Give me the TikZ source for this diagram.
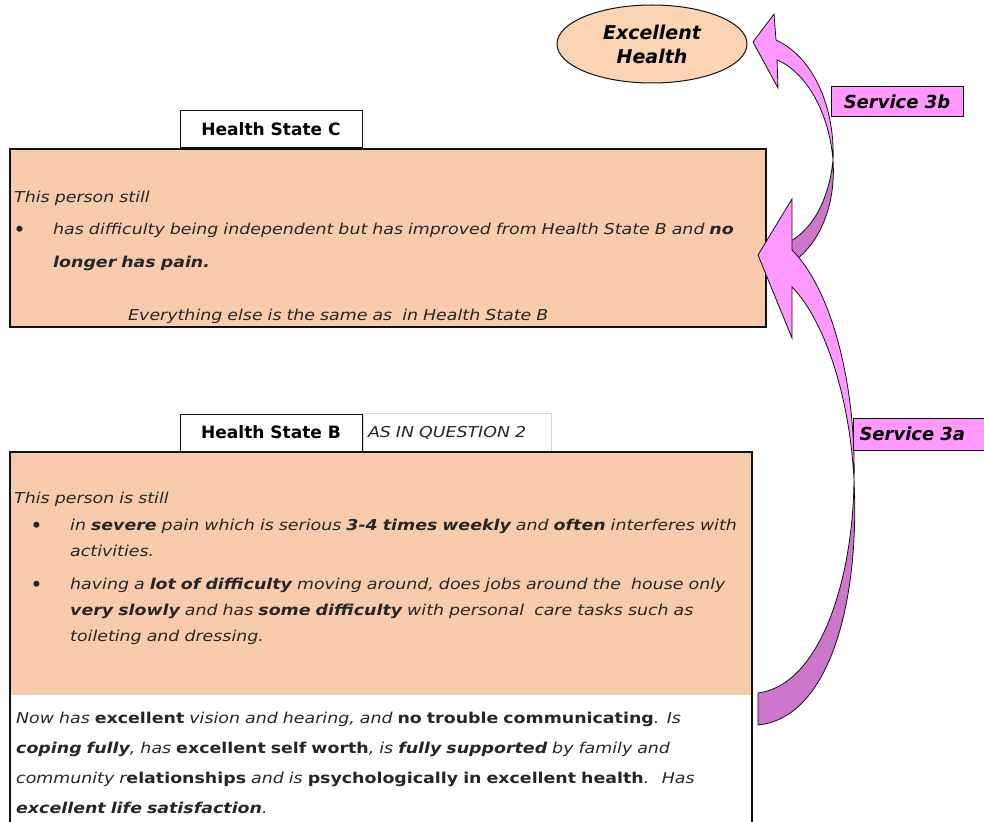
\documentclass[tikz,border=0pt]{standalone}
\usepackage{fontspec}
\setmainfont{DejaVu Sans}
\newfontfamily\bodyfont[FakeStretch=1.16]{DejaVu Sans}
\usetikzlibrary{shapes.geometric,positioning}
\definecolor{Ink}{HTML}{111111}
\definecolor{TextInk}{HTML}{262626}
\definecolor{Peach}{HTML}{F8CBAD}
\definecolor{PeachLight}{HTML}{FBD4B4}
\definecolor{Pink}{HTML}{FF99FF}
\definecolor{Orchid}{HTML}{CC77CC}
\definecolor{SkyLine}{HTML}{C6D9F1}
\tikzset{
  statebox/.style={
    draw=Ink, line width=2.5pt, fill=Peach, inner sep=0pt
  },
  tabbox/.style={
    draw=Ink, line width=1pt, fill=white, minimum width=182pt,
    minimum height=37pt, inner sep=0pt,
    font=\bfseries\fontsize{17}{20}\selectfont
  },
  bodytext/.style={
    anchor=base west, inner sep=0pt, align=left, text width=740pt,
    text=TextInk, font={\bodyfont\itshape\fontsize{15}{33}\selectfont}
  },
  bullet/.style={
    anchor=base west, inner sep=0pt, text=TextInk,
    font=\bfseries\fontsize{17}{19}\selectfont
  },
  servicetag/.style={
    draw=Ink, line width=1pt, fill=Pink, inner sep=0pt,
    font=\bfseries\itshape\fontsize{18}{20}\selectfont
  },
  ribbon/.style={draw=Ink, line width=0.8pt, line join=miter}
}
\newcommand{\up}[1]{\textbf{\upshape #1}}

\begin{document}
\begin{tikzpicture}[x=1pt,y=-1pt]
  \useasboundingbox (0,0) rectangle (984,821);
  \clip (0,0) rectangle (984,821);

  % goal
  \node[ellipse, draw=Ink, line width=1pt, fill=PeachLight, minimum width=190pt,
    minimum height=78pt, inner sep=0pt, align=center,
    font=\bfseries\itshape\fontsize{19}{24}\selectfont] (goal) at (652,44) {Excellent\\Health};

  % state C
  \node[tabbox] (tabC) at (271,129.5) {Health State C};
  \node[statebox, minimum width=756pt, minimum height=178pt] (boxC) at (388,238) {};
  \node[bodytext] (stillC) at (14,202) {This person still};
  \node[bullet] (dotC) at (14,235) {•};
  \node[bodytext] (painC) at (53,234) {has difficulty being independent but has improved from Health State B and \textbf{no}\\
    \textbf{longer has pain.}};
  \node[bodytext] (sameC) at (128,320) {Everything else is the same as \ in Health State B};

  % state B
  \node[tabbox] (tabB) at (271,432.5) {Health State B};
  \node[draw=SkyLine, line width=1pt, fill=white, anchor=west, minimum height=38pt,
    text width=178pt, inner xsep=5pt, inner ysep=0pt, align=left,
    font={\bodyfont\itshape\fontsize{15}{18}\selectfont}, text=TextInk] (asq) at (tabB.east) {AS IN QUESTION 2};
  \node[fill=Peach, minimum width=742pt, minimum height=243pt, inner sep=0pt] (boxBtop) at (381,573.5) {};
  \node[draw=Ink, line width=2.5pt, minimum width=742pt, minimum height=400pt, inner sep=0pt] (boxB) at (381,652) {};
  \node[bodytext] (stillB) at (14,503) {This person is still};
  \node[bullet] (dotB1) at (31,531) {•};
  \node[bodytext, font={\bodyfont\itshape\fontsize{15}{26}\selectfont}] (painB) at (70,530)
    {in \textbf{severe} pain which is serious \textbf{3-4 times weekly} and \textbf{often} interferes with\\
    activities.};
  \node[bullet] (dotB2) at (31,590) {•};
  \node[bodytext, font={\bodyfont\itshape\fontsize{15}{26}\selectfont}] (moveB) at (70,589)
    {having a \textbf{lot of difficulty} moving around, does jobs around the \ house only\\
    \textbf{very slowly} and has \textbf{some difficulty} with personal \ care tasks such as\\
    toileting and dressing.};
  \node[bodytext, font={\bodyfont\itshape\fontsize{15}{30}\selectfont}] (nowB) at (16,723)
    {Now has \up{excellent} vision and hearing, and \up{no trouble communicating}. Is\\
    \textbf{coping fully}, has \up{excellent self worth}, is \textbf{fully supported} by family and\\
    community r\up{elationships} and is \up{psychologically in excellent health}. \ Has\\
    \textbf{excellent life satisfaction}.};

  % service 3b
  \path[ribbon, fill=Orchid] (785,244) .. controls (812,232) and (829,200) .. (833,160)
    .. controls (836,205) and (820,245) .. (790,264) -- cycle;
  \path[ribbon, fill=Pink] (777,60) -- (778,88) -- (753,42) -- (774,14) -- (776,40)
    .. controls (815,58) and (835,110) .. (833,160)
    .. controls (829,112) and (806,72) .. (777,60) -- cycle;

  % service 3a
  \path[ribbon, fill=Orchid] (758,693) .. controls (820,685) and (853,580) .. (854,480)
    .. controls (860,600) and (830,718) .. (758,725) -- cycle;
  \path[ribbon, fill=Pink] (792,287) -- (792,338) -- (758,255) -- (792,199) -- (792,250)
    .. controls (832,290) and (856,385) .. (854,480)
    .. controls (850,400) and (826,322) .. (792,287) -- cycle;

  \node[servicetag, minimum width=132pt, minimum height=30pt] (tag3b) at (897,102) {Service 3b};
  \node[servicetag, anchor=west, text width=128pt, inner xsep=6pt, minimum height=32pt,
    align=left] (tag3a) at (853,434) {Service 3a};
\end{tikzpicture}
\end{document}
